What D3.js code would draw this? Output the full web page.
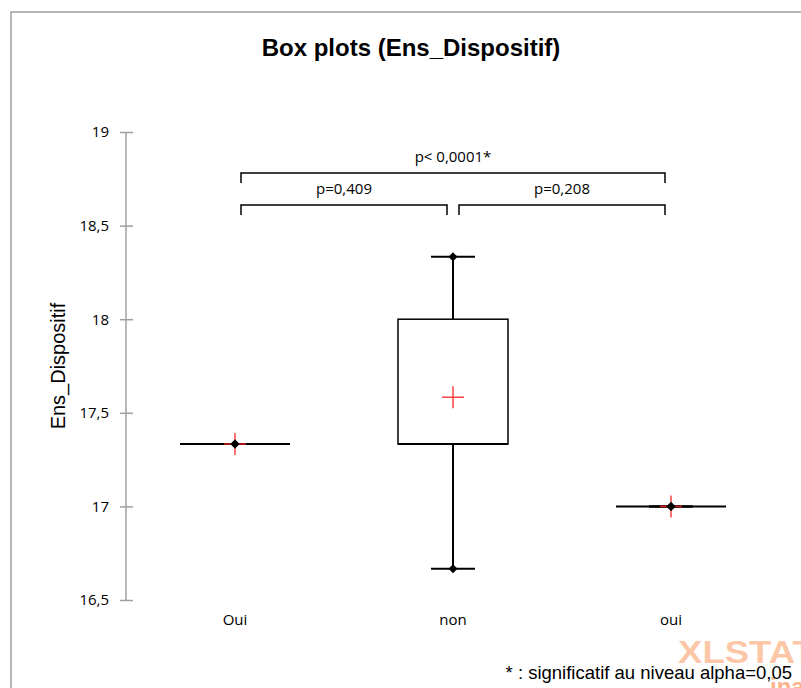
<!DOCTYPE html>
<html>
<head>
<meta charset="UTF-8">
<title>Box plots (Ens_Dispositif)</title>
<style>
  body { margin: 0; background: #fff; }
  .tick-label, .cat-label, .p-label { font: 15px "Open Sans", sans-serif; fill: #000; }
  .title { font: bold 24px "Liberation Sans", Arial, sans-serif; text-anchor: middle; }
  .axis-title { font: 20px "Liberation Sans", Arial, sans-serif; }
  .note { font: 18.5px "Liberation Sans", Arial, sans-serif; }
</style>
<script src="https://d3js.org/d3.v7.min.js"></script>
</head>
<body>
<div id="chart"></div>
<script>
// box plot statistics
const categories = ["Oui", "non", "oui"];
const minVals    = [17.333, 16.667, 17];
const q1Vals     = [17.333, 17.333, 17];
const medianVals = [17.333, 17.333, 17];
const q3Vals     = [17.333, 18.0,   17];
const maxVals    = [17.333, 18.333, 17];
const meanVals   = [17.333, 17.583, 17];
const yTicks = [16.5, 17, 17.5, 18, 18.5, 19];

// pairwise comparisons
const pairFrom  = ["Oui", "non", "Oui"];
const pairTo    = ["non", "oui", "oui"];
const pairLabel = ["p=0,409", "p=0,208", "p< 0,0001*"];
const pairLevel = [0, 0, 1];

const W = 801, H = 688;
const svg = d3.select("#chart").append("svg")
    .attr("width", W).attr("height", H);

// outer frame
svg.append("rect")
    .attr("x", 11).attr("y", 12)
    .attr("width", W + 20).attr("height", H + 20)
    .attr("fill", "none").attr("stroke", "#a0a0a0").attr("stroke-width", 1.5);

const y = d3.scaleLinear().domain([16.5, 19]).range([600, 132]);
const x = d3.scaleBand().domain(categories).range([126, 780]).padding(0);
const cx = c => x(c) + x.bandwidth() / 2;
const halfBox = 55, halfCap = 22;

const fr = d3.formatLocale({decimal: ",", thousands: " ", grouping: [3], currency: ["", ""]});

// Y axis
const yAxis = svg.append("g")
    .attr("transform", "translate(126,0)")
    .call(d3.axisLeft(y).tickValues(yTicks).tickSize(6).tickPadding(11).tickFormat(fr.format("~g")));
yAxis.select(".domain").remove();
yAxis.append("line")
    .attr("y1", y(19)).attr("y2", y(16.5))
    .attr("stroke", "#a0a0a0").attr("stroke-width", 1.5);
yAxis.selectAll(".tick line")
    .attr("x1", 7).attr("stroke", "#a0a0a0").attr("stroke-width", 1.5);
yAxis.selectAll(".tick text").attr("class", "tick-label");
yAxis.attr("font-size", null).attr("font-family", null);

svg.append("text")
    .attr("class", "axis-title")
    .attr("transform", `translate(65,${(y(19) + y(16.5)) / 2}) rotate(-90)`)
    .attr("text-anchor", "middle")
    .text("Ens_Dispositif");

// category labels
svg.selectAll(".cat-label")
    .data(categories)
    .enter().append("text")
    .attr("class", "cat-label")
    .attr("x", d => cx(d))
    .attr("y", 625)
    .attr("text-anchor", "middle")
    .text(d => d);

// title
svg.append("text").attr("class", "title")
    .attr("x", 411).attr("y", 56)
    .text("Box plots (Ens_Dispositif)");

// boxes
const g = svg.append("g");
categories.forEach((c, i) => {
    const m = cx(c);
    const line = (x1, y1, x2, y2) => g.append("line")
        .attr("x1", x1).attr("y1", y1).attr("x2", x2).attr("y2", y2)
        .attr("stroke", "#000").attr("stroke-width", 2);
    // whiskers
    line(m, y(maxVals[i]), m, y(q3Vals[i]));
    line(m, y(q1Vals[i]), m, y(minVals[i]));
    line(m - halfCap, y(maxVals[i]), m + halfCap, y(maxVals[i]));
    line(m - halfCap, y(minVals[i]), m + halfCap, y(minVals[i]));
    // box
    g.append("rect")
        .attr("x", m - halfBox).attr("y", y(q3Vals[i]))
        .attr("width", halfBox * 2).attr("height", Math.max(0, y(q1Vals[i]) - y(q3Vals[i])))
        .attr("fill", "none").attr("stroke", "#000").attr("stroke-width", 1.5);
    line(m - halfBox, y(medianVals[i]), m + halfBox, y(medianVals[i]));
    // mean
    g.append("path")
        .attr("d", `M${m - 11},${y(meanVals[i])}h22M${m},${y(meanVals[i]) - 11}v22`)
        .attr("stroke", "#ff2020").attr("stroke-opacity", 0.85).attr("stroke-width", 1.5);
    // min / max markers
    [minVals[i], maxVals[i]].forEach(v => {
        g.append("path")
            .attr("d", d3.symbol(d3.symbolDiamond2, 52)())
            .attr("transform", `translate(${m},${y(v)})`)
            .attr("fill", "#000");
    });
});

// comparison brackets
const levelY = [205, 173];
pairLabel.forEach((lab, i) => {
    const xa = cx(pairFrom[i]) + 6, xb = cx(pairTo[i]) - 6;
    const yy = levelY[pairLevel[i]];
    svg.append("path")
        .attr("d", `M${xa},${yy + 10}V${yy}H${xb}V${yy + 10}`)
        .attr("fill", "none").attr("stroke", "#000").attr("stroke-width", 1.5);
    svg.append("text")
        .attr("class", "p-label")
        .attr("x", (xa + xb) / 2)
        .attr("y", yy - 11)
        .attr("text-anchor", "middle")
        .text(lab);
});

// watermark
svg.append("text")
    .attr("transform", "translate(678,663) scale(1.18,1)")
    .attr("font-family", "Liberation Sans, Arial, sans-serif")
    .attr("font-weight", "bold").attr("font-size", 31)
    .attr("fill", "#fb9f6b").attr("fill-opacity", 0.6)
    .text("XLSTAT");
svg.append("text")
    .attr("x", 770).attr("y", 695)
    .attr("font-family", "Liberation Sans, Arial, sans-serif")
    .attr("font-weight", "bold").attr("font-size", 24)
    .attr("fill", "#fb9f6b").attr("fill-opacity", 0.8)
    .text("ina");

// footnote
svg.append("text").attr("class", "note")
    .attr("x", 792).attr("y", 679)
    .attr("text-anchor", "end")
    .text("* : significatif au niveau alpha=0,05");
</script>
</body>
</html>
